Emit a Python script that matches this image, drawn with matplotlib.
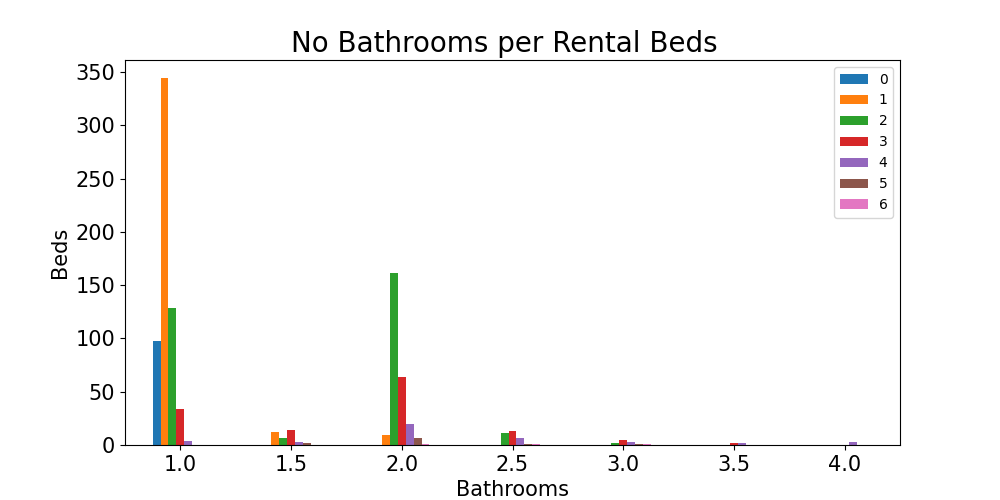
import matplotlib
matplotlib.use("Agg")
import matplotlib.pyplot as plt
import pandas as pd

bathrooms = [1.0, 1.5, 2.0, 2.5, 3.0, 3.5, 4.0]
beds_0 = [98, 0, 0, 0, 0, 0, 0]
beds_1 = [344, 12, 9, 0, 0, 0, 0]
beds_2 = [129, 7, 161, 11, 2, 0, 0]
beds_3 = [34, 14, 64, 13, 5, 2, 0]
beds_4 = [4, 3, 20, 7, 3, 2, 3]
beds_5 = [0, 2, 7, 1, 1, 0, 0]
beds_6 = [0, 0, 1, 1, 1, 0, 0]

df = pd.DataFrame({0: beds_0, 1: beds_1, 2: beds_2, 3: beds_3,
                   4: beds_4, 5: beds_5, 6: beds_6},
                  index=bathrooms)

fig, ax = plt.subplots(figsize=(10, 5), dpi=100)
df.plot.bar(ax=ax, rot=0, fontsize=15)
ax.set_title("No Bathrooms per Rental Beds", fontsize=20, x=0.489)
ax.set_xlabel("Bathrooms", fontsize=15)
ax.set_ylabel("Beds", fontsize=15)
ax.legend()
fig.savefig("out.png")
